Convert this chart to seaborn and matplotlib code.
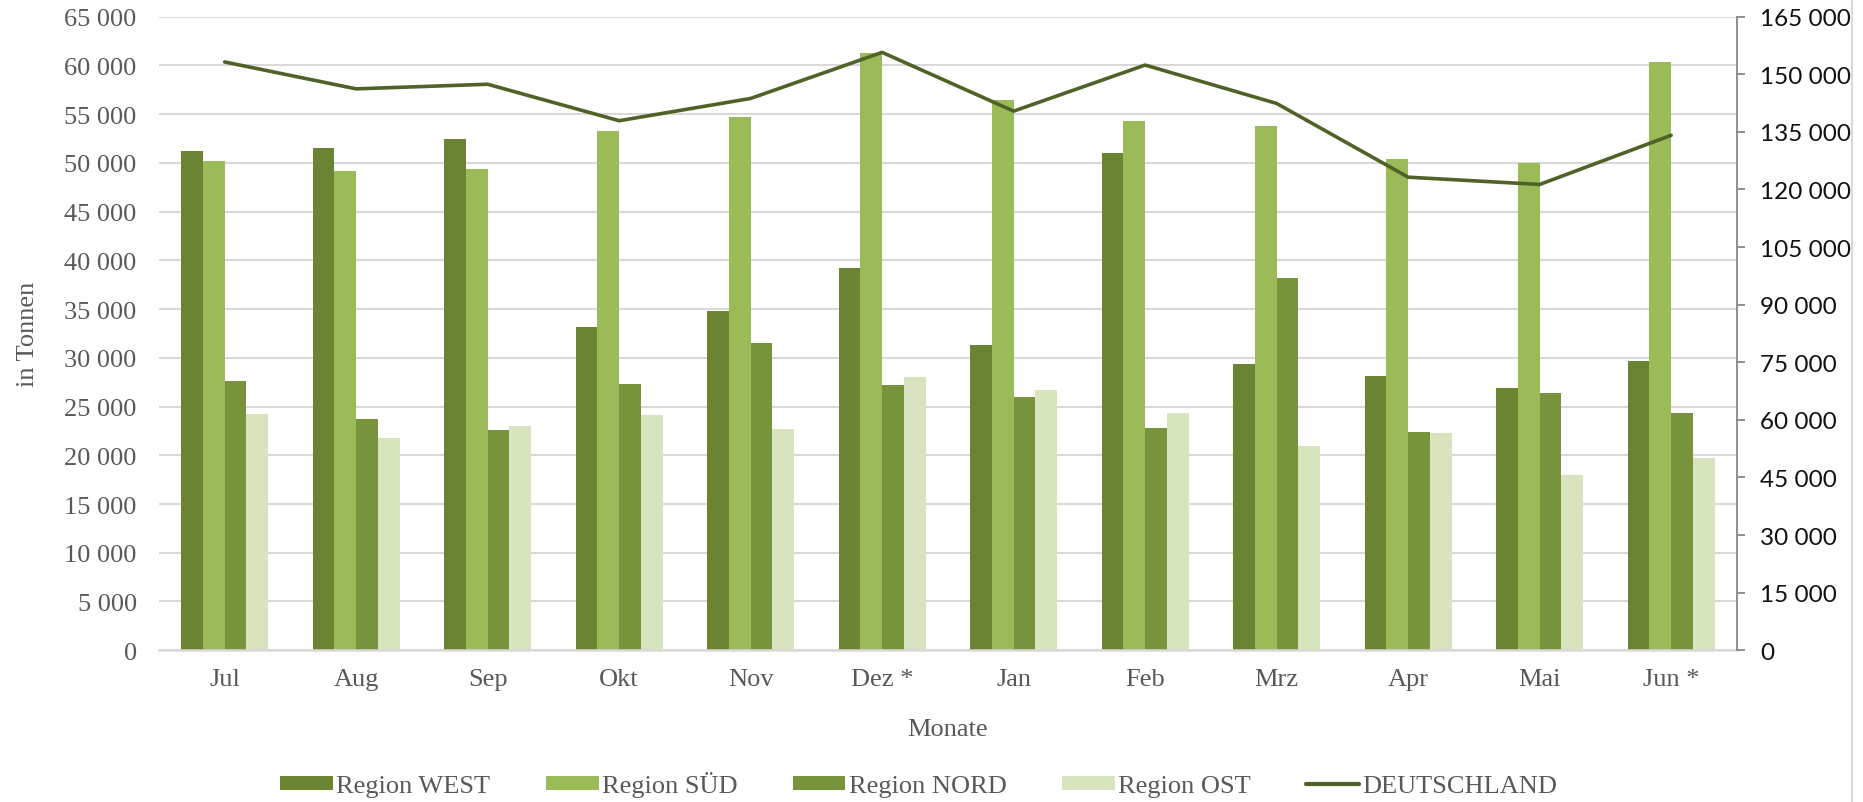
import numpy as np
import pandas as pd
import matplotlib
matplotlib.use("Agg")
import matplotlib.pyplot as plt
import seaborn as sns
from matplotlib.lines import Line2D
from matplotlib.patches import Patch

# Monthly values per region (in Tonnen)
months = ["Jul", "Aug", "Sep", "Okt", "Nov", "Dez *", "Jan", "Feb", "Mrz", "Apr", "Mai", "Jun *"]
west = [51200, 51500, 52400, 33200, 34800, 39200, 31300, 51000, 29400, 28100, 26900, 29700]
sued = [50200, 49200, 49400, 53300, 54700, 61300, 56400, 54300, 53800, 50400, 50000, 60400]
nord = [27600, 23700, 22600, 27300, 31500, 27200, 26000, 22800, 38200, 22400, 26400, 24300]
ost = [24200, 21800, 23000, 24100, 22700, 28000, 26700, 24300, 21000, 22300, 18000, 19700]
deutschland = [153200, 146200, 147400, 137900, 143700, 155700, 140400, 152400, 142400, 123200, 121300, 134100]

regions = ["Region WEST", "Region SÜD", "Region NORD", "Region OST"]
colors = ["#6A8433", "#9BBB59", "#77933C", "#D7E4BD"]
line_color = "#4F6228"
text_grey = "#595959"
grid_grey = "#D9D9D9"
fs = 19

# long-form table for seaborn
df = pd.DataFrame({
    "Monat": months * 4,
    "Region": np.repeat(regions, len(months)),
    "Tonnen": west + sued + nord + ost,
})

sns.set_style("white")
plt.rcParams["font.family"] = ["Liberation Serif", "DejaVu Serif"]

fig = plt.figure(figsize=(18.63, 8.03), dpi=100)
ax = fig.add_axes([0.0853, 0.189, 0.847, 0.789])

sns.barplot(data=df, x="Monat", y="Tonnen", hue="Region", order=months,
            hue_order=regions, palette=colors, width=0.66, linewidth=0,
            saturation=1, legend=False, ax=ax, zorder=2)

ax.set_xlim(-0.5, len(months) - 0.5)
ax.set_ylim(0, 65000)
left_ticks = np.arange(0, 65001, 5000)
ax.set_yticks(left_ticks)
ax.set_yticklabels([f"{v:,}".replace(",", " ") for v in left_ticks])
ax.yaxis.grid(True, color=grid_grey, linewidth=1.5, zorder=0)
ax.set_axisbelow(True)
for s in ["top", "left", "right"]:
    ax.spines[s].set_visible(False)
ax.spines["bottom"].set_color(grid_grey)
ax.spines["bottom"].set_linewidth(1.8)
ax.tick_params(axis="y", length=0, pad=16, labelsize=fs, labelcolor=text_grey)
ax.tick_params(axis="x", length=0, pad=13, labelsize=fs, labelcolor=text_grey)
ax.set_xlabel("Monate", fontsize=fs, color=text_grey, labelpad=20)
ax.set_ylabel("in Tonnen", fontsize=fs, color=text_grey, labelpad=18)

# secondary axis with the total
ax2 = ax.twinx()
sns.lineplot(x=np.arange(len(months)), y=deutschland, color=line_color,
             linewidth=2.6, ax=ax2, zorder=3)
ax2.set_ylim(0, 165000)
right_ticks = np.arange(0, 165001, 15000)
ax2.set_yticks(right_ticks)
ax2.set_yticklabels([f"{v:,}".replace(",", " ") for v in right_ticks],
                    family=["Lato", "DejaVu Sans"])
for s in ["top", "left", "bottom"]:
    ax2.spines[s].set_visible(False)
ax2.spines["right"].set_color("#888888")
ax2.spines["right"].set_linewidth(1.3)
ax2.tick_params(axis="y", length=6, width=1.3, color="#888888", pad=11,
                labelsize=17.5, labelcolor="#111111")
ax2.set_xlim(-0.5, len(months) - 0.5)

# legend below the chart
handles = [Patch(facecolor=c, edgecolor="none") for c in colors]
handles.append(Line2D([0], [0], color=line_color, linewidth=3))
fig.legend(handles, regions + ["DEUTSCHLAND"], loc="center", ncol=5,
           bbox_to_anchor=(0.493, 0.022), frameon=False, fontsize=fs,
           handlelength=2.0, handleheight=0.45, handletextpad=0.12,
           columnspacing=2.1, labelcolor=text_grey)

# light chart border on the right
fig.add_artist(Line2D([0.994, 0.994], [0, 1], color=grid_grey, linewidth=1.5))

fig.savefig("out.png", dpi=100)
